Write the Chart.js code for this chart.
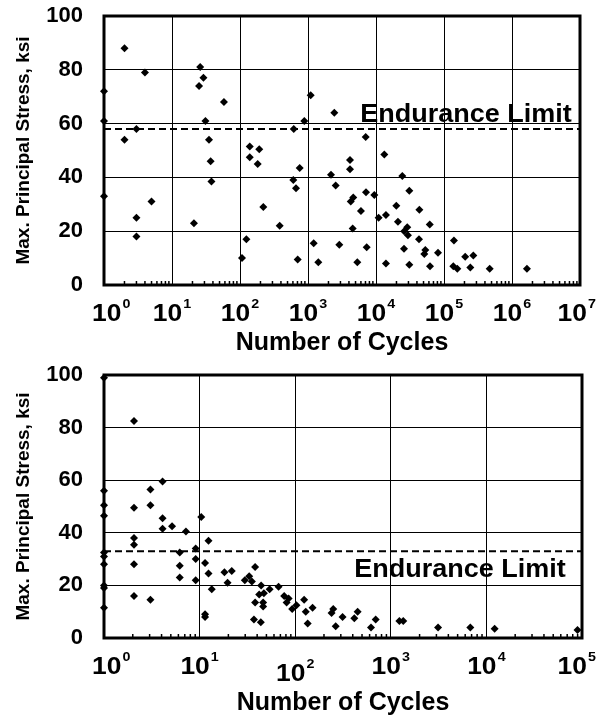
<!DOCTYPE html>
<html><head><meta charset="utf-8">
<script src="https://cdn.jsdelivr.net/npm/chart.js@4/dist/chart.umd.min.js"></script>
<style>
html,body{margin:0;padding:0;background:#fff;width:597px;height:719px;overflow:hidden;}
canvas{position:absolute;left:0;}
#c1{top:0;}
#c2{top:360px;}
</style></head><body>
<canvas id="c1" width="597" height="360"></canvas>
<canvas id="c2" width="597" height="359"></canvas>
<script>
// ---------- data ----------
const topCycles = [1,1,1,2,2,3,4,3,3,5,21,26,29,25,58,31,35,37,38,107,124,139,139,192,182,220,383,617,608,666,755,705,883,1096,1213,1419,
  2437,7050,13250,4150,4150,2178,2553,24400,30900,4630,4250,7130,9440,6010,19900,43400,10940,14000,21000,28800,26000,29500,61700,4540,42900,
  2890,7300,25800,53100,51300,81700,5310,14000,30900,62200,140000,137000,157000,205000,270000,244000,470000,1660000];
const topStress = [72,61,33,88,54,58,79,25,18,31,23,81,77,74,68,61,54,46,38.5,10,17,51.5,47.5,50.5,45,29,22,58,39,36,43.5,9.5,61,70.5,15.5,8.5,
  64,55,48.5,46.5,43,41,37,40.5,35,32.5,31,34.5,33.5,27.5,29.5,28,25,26,23.5,21.5,20,18.5,22.5,21,17,
  15,14,13.5,13,11.5,12,8.5,8,7.5,7,16.5,7,6,10.5,11,6.5,6,6];
const bottomCycles = [1,1,1,1,1,1,1,1,1,1,2.06,2.06,2.06,2.06,2.06,2.06,3.06,3.06,3.06,4.1,4.1,4.1,5.15,7.2,6.2,6.2,6.2,9.1,9.1,9.1,
  10.4,11.4,11.4,11.4,12.4,12.4,13.4,18.2,21.7,19.6,29.7,33,35.2,38.1,38.1,37,43.7,44,42,47,46.2,46.2,54,67,76.7,85.3,81.3,93,103,124,129,152,135,
  240,250,265,313,415,450,621,695,1230,1350,3120,6790,12200,89700];
const bottomStress = [99,56,50.5,46.5,32.5,31,28,20,19,11.5,82.5,49.5,38,35.5,28,16,56.5,50.5,14.5,59.5,45.5,41.5,42.5,40.5,32.5,27.5,23,34,30,22,
  46,28.5,9,8,37,24.5,18.5,25,25.5,21,22,23.5,21.5,27,13.5,7,6,20,16.5,17,13.5,12,18.5,19.5,16,15,13.5,11,12.5,14.5,10,11.5,5.5,
  9.5,11,4.5,8,7.5,10,4,7,6.5,6.5,4,4,3.5,3];
const topEndurance = 58;
const bottomEndurance = 33;
const stressTicks = [0,20,40,60,80,100];
const topDecades = [0,1,2,3,4,5,6,7];
const bottomDecades = [0,1,2,3,4,5];
const yTitle = 'Max. Principal Stress, ksi';
const xTitle = 'Number of Cycles';
const enduranceLabel = 'Endurance Limit';

// ---------- drawing ----------
const FONT = '"Liberation Sans", Arial, Helvetica, sans-serif';

function makeDecor(cfg) {
  return {
    id: 'decor',
    beforeDatasetsDraw(chart) {
      const {ctx, chartArea: a} = chart;
      const xs = chart.scales.x;
      ctx.save();
      ctx.strokeStyle = '#000';
      ctx.lineWidth = 1.5;
      const dec = cfg.decades;
      for (let i = 0; i < dec.length - 1; i++) {
        for (let k = 2; k <= 9; k++) {
          const px = xs.getPixelForValue(k * Math.pow(10, dec[i]));
          ctx.beginPath(); ctx.moveTo(px, a.bottom); ctx.lineTo(px, a.bottom - 4); ctx.stroke();
        }
      }
      ctx.lineWidth = 3;
      ctx.strokeRect(a.left, a.top, a.right - a.left, a.bottom - a.top);
      ctx.restore();
    },
    afterDraw(chart) {
      const {ctx, chartArea: a} = chart;
      const xs = chart.scales.x, ys = chart.scales.y;
      ctx.save();
      ctx.fillStyle = '#000';
      ctx.textBaseline = 'alphabetic';
      ctx.textAlign = 'left';
      const S = 1.1;
      for (const d of cfg.decades) {
        const px = xs.getPixelForValue(Math.pow(10, d));
        ctx.font = 'bold 24px ' + FONT;
        const w1 = ctx.measureText('10').width;
        ctx.font = 'bold 13px ' + FONT;
        const sup = String(d);
        const w2 = ctx.measureText(sup).width;
        const total = (w1 + 1 + w2) * S;
        let x0 = px - total / 2;
        x0 = Math.max(x0, 92);
        x0 = Math.min(x0, chart.width - 1 - total);
        const base = a.bottom + 36 + ((cfg.shift && cfg.shift[d]) || 0);
        ctx.save();
        ctx.translate(x0, base);
        ctx.scale(S, 1);
        ctx.font = 'bold 24px ' + FONT;
        ctx.fillText('10', 0, 0);
        ctx.font = 'bold 13px ' + FONT;
        ctx.fillText(sup, w1 + 1, -13);
        ctx.restore();
      }
      // endurance label
      ctx.save();
      ctx.font = 'bold 25px ' + FONT;
      const cx = a.right + cfg.labelDx;
      const by = ys.getPixelForValue(cfg.endurance) + cfg.labelDy;
      ctx.translate(cx, by);
      ctx.scale(1.08, 1);
      ctx.textAlign = 'center';
      ctx.fillText(enduranceLabel, 0, 0);
      ctx.restore();
      ctx.restore();
    }
  };
}

function makeChart(id, cfg) {
  const xMax = Math.pow(10, cfg.decades[cfg.decades.length - 1]);
  const pts = cfg.cycles.map((c, i) => ({x: c, y: cfg.stress[i]}));
  const g = cfg.geom;
  new Chart(document.getElementById(id), {
    type: 'scatter',
    data: {datasets: [
      {data: pts, pointStyle: 'rectRot', pointRadius: 4, backgroundColor: '#000', borderColor: '#000', borderWidth: 0, clip: false, order: 0},
      {type: 'line', data: [{x: 1, y: cfg.endurance}, {x: xMax, y: cfg.endurance}], borderColor: '#000', borderWidth: 2,
       borderDash: [7, 4], pointRadius: 0, fill: false, order: 1, clip: false}
    ]},
    options: {
      responsive: false, animation: false, events: [],
      layout: {padding: {left: 0, top: g.top, right: 597 - g.right, bottom: 0}},
      plugins: {legend: {display: false}, tooltip: {enabled: false}},
      scales: {
        x: {
          type: 'logarithmic', min: 1, max: xMax,
          afterBuildTicks: s => { s.ticks = cfg.decades.map(d => ({value: Math.pow(10, d), major: true})); },
          afterFit: s => { s.height = g.h - g.bottom; s.paddingLeft = 0; s.paddingRight = 0; },
          ticks: {display: false},
          grid: {color: '#000', lineWidth: 1, drawTicks: false},
          border: {display: false},
          title: {display: true, text: xTitle, color: '#000', font: {family: FONT, size: 25, weight: 'bold'}, padding: {top: 0, bottom: g.xtPad}}
        },
        y: {
          min: 0, max: 100,
          afterBuildTicks: s => { s.ticks = stressTicks.map(v => ({value: v})); },
          afterFit: s => { s.width = g.left; s.paddingTop = 0; s.paddingBottom = 0; },
          ticks: {color: '#000', font: {family: FONT, size: 22, weight: 'bold'}, padding: 21},
          grid: {color: '#000', lineWidth: 1, drawTicks: false},
          border: {display: false},
          title: {display: true, text: yTitle, color: '#000', font: {family: FONT, size: 19, weight: 'bold'}, padding: {top: 12, bottom: 0}}
        }
      }
    },
    plugins: [makeDecor(cfg)]
  });
}

makeChart('c1', {cycles: topCycles, stress: topStress, decades: topDecades, endurance: topEndurance,
  geom: {left: 104, right: 580, top: 16, bottom: 285, h: 360, xtPad: 2},
  labelDx: -114, labelDy: -7});
makeChart('c2', {cycles: bottomCycles, stress: bottomStress, decades: bottomDecades, endurance: bottomEndurance,
  geom: {left: 104, right: 582, top: 15, bottom: 278, h: 359, xtPad: 1},
  labelDx: -122, labelDy: 26, shift: {2: 7}});
</script>
</body></html>
